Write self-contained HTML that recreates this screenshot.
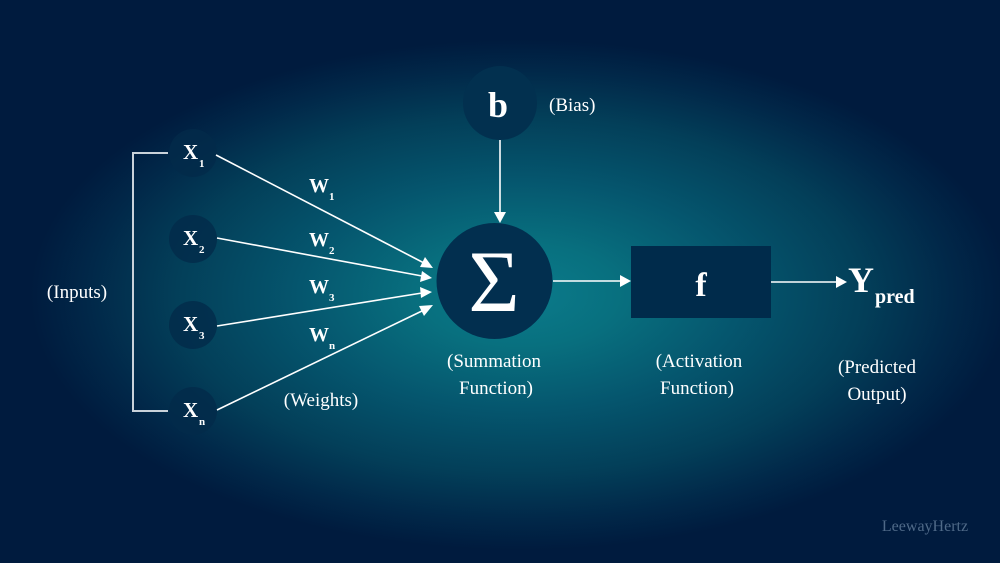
<!DOCTYPE html>
<html>
<head>
<meta charset="utf-8">
<style>
  html,body{margin:0;padding:0;background:#001b3e;}
  svg{display:block;}
  text{font-family:"Liberation Serif","DejaVu Serif",serif;fill:#ffffff;}
</style>
</head>
<body>
<svg width="1000" height="563" viewBox="0 0 1000 563" xmlns="http://www.w3.org/2000/svg">
  <defs>
    <radialGradient id="bg" gradientUnits="userSpaceOnUse" cx="0" cy="0" r="1"
      gradientTransform="translate(520 295) scale(490 255)">
      <stop offset="0" stop-color="#0b7b8b"/>
      <stop offset="0.2" stop-color="#08707f"/>
      <stop offset="0.45" stop-color="#05566e"/>
      <stop offset="0.7" stop-color="#033f59"/>
      <stop offset="0.88" stop-color="#012849"/>
      <stop offset="1" stop-color="#001b3e"/>
    </radialGradient>
  </defs>
  <rect x="0" y="0" width="1000" height="563" fill="url(#bg)"/>

  <!-- bracket -->
  <path d="M168 153 H133 V411 H168" fill="none" stroke="#c9d2da" stroke-width="2"/>

  <!-- input circles -->
  <g fill="#022a4a" fill-opacity="0.8">
    <circle cx="193" cy="153" r="24"/>
    <circle cx="193" cy="239" r="24"/>
    <circle cx="193" cy="325" r="24"/>
    <circle cx="193" cy="411" r="24"/>
  </g>

  <!-- input labels -->
  <g font-weight="bold">
    <text x="183" y="159" font-size="21">X</text><text x="199" y="167" font-size="11">1</text>
    <text x="183" y="245" font-size="21">X</text><text x="199" y="253" font-size="11">2</text>
    <text x="183" y="331" font-size="21">X</text><text x="199" y="339" font-size="11">3</text>
    <text x="183" y="417" font-size="21">X</text><text x="199" y="425" font-size="11">n</text>
  </g>

  <!-- weight lines -->
  <g stroke="#ffffff" stroke-width="1.6" fill="none">
    <line x1="216" y1="155" x2="424" y2="263"/>
    <line x1="217" y1="238" x2="422" y2="276"/>
    <line x1="217" y1="326" x2="422" y2="293"/>
    <line x1="217" y1="410" x2="424" y2="310"/>
  </g>
  <g fill="#ffffff">
    <polygon points="433,268 420,267 425,257"/>
    <polygon points="432,278 420,282 422,271"/>
    <polygon points="432,292 421,298 420,287"/>
    <polygon points="433,305 424,316 419,306"/>
  </g>

  <!-- weight labels -->
  <g font-weight="bold">
    <text x="309" y="192" font-size="20">W</text><text x="329" y="200" font-size="11">1</text>
    <text x="309" y="246" font-size="20">W</text><text x="329" y="254" font-size="11">2</text>
    <text x="309" y="293" font-size="20">W</text><text x="329" y="301" font-size="11">3</text>
    <text x="309" y="341" font-size="20">W</text><text x="329" y="349" font-size="11">n</text>
  </g>

  <!-- bias -->
  <circle cx="500" cy="103" r="37" fill="#02304f"/>
  <text x="498" y="117" font-size="36" font-weight="bold" text-anchor="middle">b</text>
  <text x="549" y="111" font-size="19">(Bias)</text>
  <line x1="500" y1="140" x2="500" y2="214" stroke="#fff" stroke-width="1.6"/>
  <polygon points="494,212 506,212 500,223" fill="#fff"/>

  <!-- summation -->
  <circle cx="494.5" cy="281" r="58" fill="#022f4f"/>
  <text x="494" y="311" font-size="88" text-anchor="middle">Σ</text>

  <!-- sigma to f -->
  <line x1="553" y1="281" x2="622" y2="281" stroke="#fff" stroke-width="1.6"/>
  <polygon points="620,275 631,281 620,287" fill="#fff"/>

  <!-- activation box -->
  <rect x="631" y="246" width="140" height="72" fill="#002b4b"/>
  <text x="701" y="296" font-size="34" font-weight="bold" text-anchor="middle">f</text>

  <!-- f to Y -->
  <line x1="771" y1="282" x2="838" y2="282" stroke="#fff" stroke-width="1.6"/>
  <polygon points="836,276 847,282 836,288" fill="#fff"/>

  <text x="848" y="292" font-size="36" font-weight="bold">Y</text>
  <text x="875" y="303" font-size="20" font-weight="bold">pred</text>

  <!-- descriptive labels -->
  <g font-size="19" text-anchor="middle">
    <text x="77" y="298">(Inputs)</text>
    <text x="321" y="406">(Weights)</text>
    <text x="494" y="367">(Summation</text>
    <text x="496" y="394">Function)</text>
    <text x="699" y="367">(Activation</text>
    <text x="697" y="394">Function)</text>
    <text x="877" y="373">(Predicted</text>
    <text x="877" y="400">Output)</text>
  </g>

  <text x="925" y="531" font-size="16" text-anchor="middle" style="fill:#4f6a88">LeewayHertz</text>
</svg>
</body>
</html>
